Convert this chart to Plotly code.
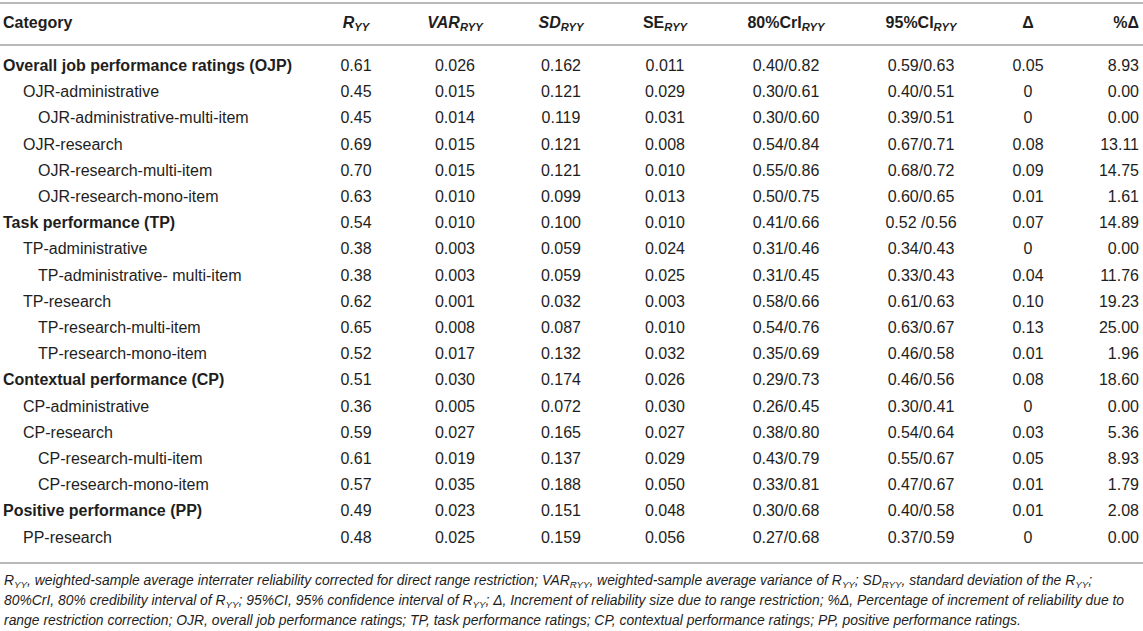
import numpy as np
import plotly.graph_objects as go

# --- donnees du tableau ---
categories = [
    "Overall job performance ratings (OJP)", "OJR-administrative", "OJR-administrative-multi-item",
    "OJR-research", "OJR-research-multi-item", "OJR-research-mono-item",
    "Task performance (TP)", "TP-administrative", "TP-administrative- multi-item",
    "TP-research", "TP-research-multi-item", "TP-research-mono-item",
    "Contextual performance (CP)", "CP-administrative", "CP-research",
    "CP-research-multi-item", "CP-research-mono-item",
    "Positive performance (PP)", "PP-research",
]
levels = [0, 1, 2, 1, 2, 2, 0, 1, 2, 1, 2, 2, 0, 1, 1, 2, 2, 0, 1]
r_yy = [0.61, 0.45, 0.45, 0.69, 0.70, 0.63, 0.54, 0.38, 0.38, 0.62, 0.65, 0.52, 0.51, 0.36, 0.59, 0.61, 0.57, 0.49, 0.48]
var_ryy = [0.026, 0.015, 0.014, 0.015, 0.015, 0.010, 0.010, 0.003, 0.003, 0.001, 0.008, 0.017, 0.030, 0.005, 0.027, 0.019, 0.035, 0.023, 0.025]
sd_ryy = [0.162, 0.121, 0.119, 0.121, 0.121, 0.099, 0.100, 0.059, 0.059, 0.032, 0.087, 0.132, 0.174, 0.072, 0.165, 0.137, 0.188, 0.151, 0.159]
se_ryy = [0.011, 0.029, 0.031, 0.008, 0.010, 0.013, 0.010, 0.024, 0.025, 0.003, 0.010, 0.032, 0.026, 0.030, 0.027, 0.029, 0.050, 0.048, 0.056]
cri80 = ["0.40/0.82", "0.30/0.61", "0.30/0.60", "0.54/0.84", "0.55/0.86", "0.50/0.75", "0.41/0.66",
         "0.31/0.46", "0.31/0.45", "0.58/0.66", "0.54/0.76", "0.35/0.69", "0.29/0.73", "0.26/0.45",
         "0.38/0.80", "0.43/0.79", "0.33/0.81", "0.30/0.68", "0.27/0.68"]
ci95 = ["0.59/0.63", "0.40/0.51", "0.39/0.51", "0.67/0.71", "0.68/0.72", "0.60/0.65", "0.52 /0.56",
        "0.34/0.43", "0.33/0.43", "0.61/0.63", "0.63/0.67", "0.46/0.58", "0.46/0.56", "0.30/0.41",
        "0.54/0.64", "0.55/0.67", "0.47/0.67", "0.40/0.58", "0.37/0.59"]
delta = [0.05, 0, 0, 0.08, 0.09, 0.01, 0.07, 0, 0.04, 0.10, 0.13, 0.01, 0.08, 0, 0.03, 0.05, 0.01, 0.01, 0]
pct_delta = [8.93, 0.00, 0.00, 13.11, 14.75, 1.61, 14.89, 0.00, 11.76, 19.23, 25.00, 1.96, 18.60, 0.00, 5.36, 8.93, 1.79, 2.08, 0.00]

headers = ["Category", "<i>R<sub>YY</sub></i>", "<i>VAR<sub>RYY</sub></i>", "<i>SD<sub>RYY</sub></i>",
           "SE<sub><i>RYY</i></sub>", "80%CrI<sub><i>RYY</i></sub>", "95%CI<sub><i>RYY</i></sub>", "Δ", "%Δ"]

footnote = [
    "R<sub>YY</sub>, weighted-sample average interrater reliability corrected for direct range restriction; "
    "VAR<sub>RYY</sub>, weighted-sample average variance of R<sub>YY</sub>; SD<sub>RYY</sub>, standard deviation of the R<sub>YY</sub>;",
    "80%CrI, 80% credibility interval of R<sub>YY</sub>; 95%CI, 95% confidence interval of R<sub>YY</sub>; "
    "Δ, Increment of reliability size due to range restriction; %Δ, Percentage of increment of reliability due to",
    "range restriction correction; OJR, overall job performance ratings; TP, task performance ratings; "
    "CP, contextual performance ratings; PP, positive performance ratings.",
]

# --- mise en page ---
W, H = 1143, 631
FONT = "Liberation Sans"
TXT = "#1e1e1e"
LINE = "#b8b8b8"
ROW0, STEP = 67, 26.2
HEAD_Y = 24
col_x = [3, 356, 455, 561, 665, 786, 921, 1028]
PCT_RIGHT = 1139
indent = [0, 20, 35]

rows_y = ROW0 + STEP * np.arange(len(categories))


def fmt_delta(v):
    return "0" if v == 0 else f"{v:.2f}"


columns = [
    [f"{v:.2f}" for v in r_yy],
    [f"{v:.3f}" for v in var_ryy],
    [f"{v:.3f}" for v in sd_ryy],
    [f"{v:.3f}" for v in se_ryy],
    cri80,
    ci95,
    [fmt_delta(v) for v in delta],
]
txtfont = dict(family=FONT, size=16, color=TXT)

fig = go.Figure()

# colonne categorie
cat_text = [f"<b>{c}</b>" if lv == 0 else c for c, lv in zip(categories, levels)]
fig.add_trace(go.Scatter(
    x=[col_x[0] + indent[lv] for lv in levels], y=rows_y, text=cat_text,
    mode="text", textposition="middle right", cliponaxis=False,
    textfont=txtfont, hoverinfo="skip",
))

# colonnes numeriques
for cx, vals in zip(col_x[1:], columns):
    fig.add_trace(go.Scatter(
        x=[cx] * len(vals), y=rows_y, text=vals,
        mode="text", textposition="middle center", cliponaxis=False,
        textfont=txtfont, hoverinfo="skip",
    ))

# %delta, cadre a droite
fig.add_trace(go.Scatter(
    x=[PCT_RIGHT] * len(pct_delta), y=rows_y, text=[f"{v:.2f}" for v in pct_delta],
    mode="text", textposition="middle left", cliponaxis=False,
    textfont=txtfont, hoverinfo="skip",
))

# en-tetes
fig.add_trace(go.Scatter(
    x=[col_x[0]], y=[HEAD_Y], text=["<b>" + headers[0] + "</b>"],
    mode="text", textposition="middle right", cliponaxis=False,
    textfont=txtfont, hoverinfo="skip",
))
fig.add_trace(go.Scatter(
    x=col_x[1:], y=[HEAD_Y] * (len(col_x) - 1), text=["<b>" + h + "</b>" for h in headers[1:-1]],
    mode="text", textposition="middle center", cliponaxis=False,
    textfont=txtfont, hoverinfo="skip",
))
fig.add_trace(go.Scatter(
    x=[PCT_RIGHT], y=[HEAD_Y], text=["<b>" + headers[-1] + "</b>"],
    mode="text", textposition="middle left", cliponaxis=False,
    textfont=txtfont, hoverinfo="skip",
))

# filets horizontaux
for yl in [3, 45, 563]:
    fig.add_shape(type="line", xref="paper", x0=0, x1=1, yref="y", y0=yl, y1=yl,
                  line=dict(color=LINE, width=2))

# note de bas de tableau
for i, line in enumerate(footnote):
    fig.add_annotation(x=2, y=581 + 19.5 * i, xref="x", yref="y", text=f"<i>{line}</i>",
                       showarrow=False, xanchor="left", yanchor="middle",
                       font=dict(family=FONT, size=13.9, color=TXT))

fig.update_layout(
    width=W, height=H,
    margin=dict(l=0, r=0, t=0, b=0),
    paper_bgcolor="white", plot_bgcolor="white",
    showlegend=False,
    xaxis=dict(range=[0, W], visible=False, fixedrange=True),
    yaxis=dict(range=[H, 0], visible=False, fixedrange=True),
)

fig.write_html("out.html", config={"displayModeBar": False},
               post_script="document.body.style.margin='0';")
